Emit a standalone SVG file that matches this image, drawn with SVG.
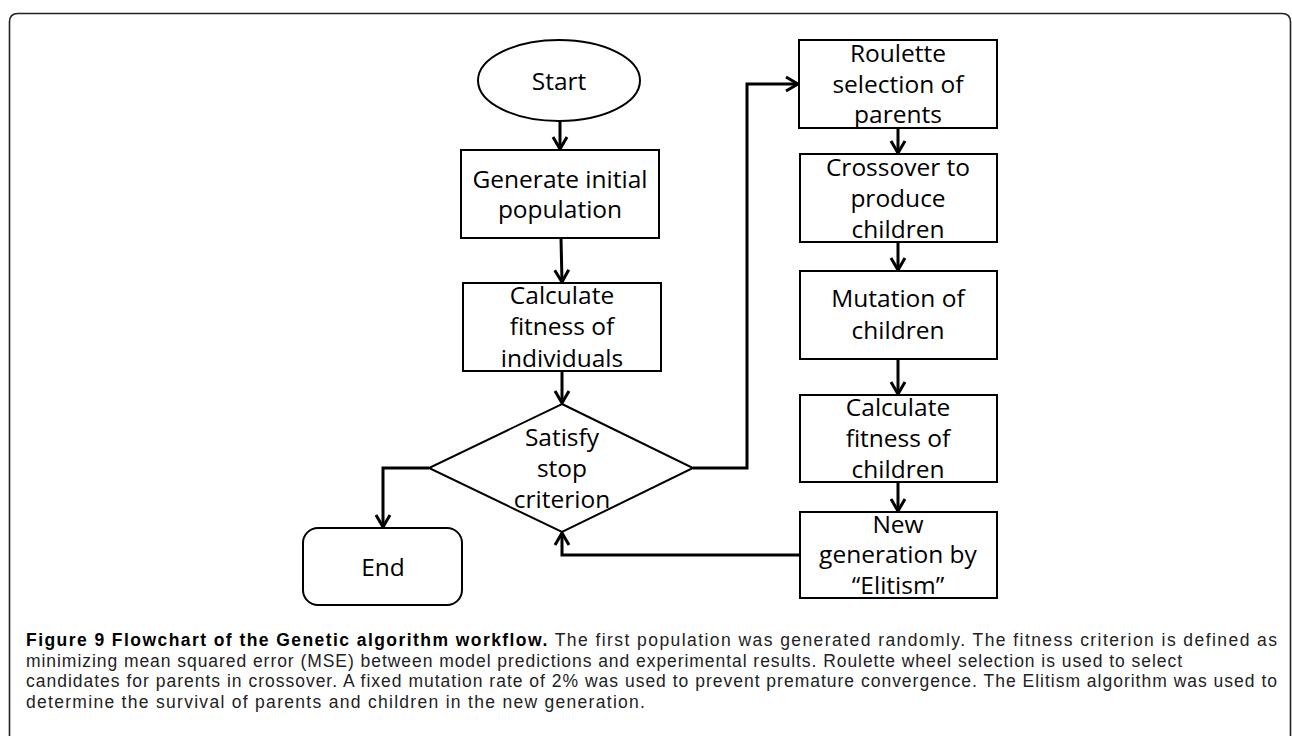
<svg xmlns="http://www.w3.org/2000/svg" width="1292" height="736" viewBox="0 0 1292 736">
<style>
.node{fill:#fff;stroke:#000;stroke-width:2}
.lbl{font-family:"Open Sans","Liberation Sans",sans-serif;font-size:24.5px;fill:#000;text-anchor:middle}
.conn{fill:none;stroke:#000;stroke-width:3}
.cap{font-family:"Liberation Sans",Arial,sans-serif;font-size:17.5px;fill:#222}
.capb{font-weight:bold;fill:#000}
</style>
<defs>
<marker id="arr" markerUnits="userSpaceOnUse" viewBox="0 0 14 16" refX="13" refY="8" markerWidth="14" markerHeight="16" orient="auto" overflow="visible">
<path d="M1,1 L13,8 L1,15" fill="none" stroke="#000" stroke-width="3"/>
</marker>
</defs>
<rect x="0" y="0" width="1292" height="736" fill="#fff"/>
<path d="M9.5,736 L9.5,22 Q9.5,13.5 18,13.5 L1282,13.5 Q1290.5,13.5 1290.5,22 L1290.5,736" fill="none" stroke="#222" stroke-width="1.6"/>

<g id="connectors">
<path class="conn" d="M560,121 L560,149" marker-end="url(#arr)"/>
<path class="conn" d="M561,238 L562,282" marker-end="url(#arr)"/>
<path class="conn" d="M562,371 L562,403" marker-end="url(#arr)"/>
<path class="conn" d="M429,468 L383,468 L383,527" marker-end="url(#arr)"/>
<path class="conn" d="M693,468 L747,468 L747,84 L798,84" marker-end="url(#arr)"/>
<path class="conn" d="M898,128 L898,153" marker-end="url(#arr)"/>
<path class="conn" d="M898,242 L898,270" marker-end="url(#arr)"/>
<path class="conn" d="M898,359 L898,394" marker-end="url(#arr)"/>
<path class="conn" d="M898,482 L898,511" marker-end="url(#arr)"/>
<path class="conn" d="M800,555 L562,555 L562,533" marker-end="url(#arr)"/>
</g>

<g id="start">
<ellipse class="node" cx="559" cy="80.5" rx="81" ry="40.5"/>
<text class="lbl" x="559" y="90">Start</text>
</g>
<g id="generate">
<rect class="node" x="461" y="150" width="198" height="88"/>
<text class="lbl" x="560" y="188">Generate initial</text>
<text class="lbl" x="560" y="218">population</text>
</g>
<g id="calc-individuals">
<rect class="node" x="463" y="283" width="198" height="88"/>
<text class="lbl" x="562" y="304">Calculate</text>
<text class="lbl" x="562" y="335">fitness of</text>
<text class="lbl" x="562" y="367">individuals</text>
</g>
<g id="decision">
<polygon class="node" points="562,404 693,468 562,532 429,468"/>
<text class="lbl" x="562" y="446">Satisfy</text>
<text class="lbl" x="562" y="477">stop</text>
<text class="lbl" x="562" y="508">criterion</text>
</g>
<g id="end">
<rect class="node" x="303" y="528" width="159" height="77" rx="15" ry="15"/>
<text class="lbl" x="383" y="576">End</text>
</g>
<g id="roulette">
<rect class="node" x="799" y="40" width="198" height="88"/>
<text class="lbl" x="898" y="62">Roulette</text>
<text class="lbl" x="898" y="93">selection of</text>
<text class="lbl" x="898" y="123">parents</text>
</g>
<g id="crossover">
<rect class="node" x="800" y="154" width="197" height="88"/>
<text class="lbl" x="898" y="176">Crossover to</text>
<text class="lbl" x="898" y="207">produce</text>
<text class="lbl" x="898" y="238">children</text>
</g>
<g id="mutation">
<rect class="node" x="800" y="271" width="197" height="88"/>
<text class="lbl" x="898" y="307">Mutation of</text>
<text class="lbl" x="898" y="339">children</text>
</g>
<g id="calc-children">
<rect class="node" x="800" y="395" width="197" height="87"/>
<text class="lbl" x="898" y="416">Calculate</text>
<text class="lbl" x="898" y="447">fitness of</text>
<text class="lbl" x="898" y="478">children</text>
</g>
<g id="new-generation">
<rect class="node" x="800" y="512" width="197" height="86"/>
<text class="lbl" x="898" y="533">New</text>
<text class="lbl" x="898" y="563">generation by</text>
<text class="lbl" x="898" y="594">“Elitism”</text>
</g>

<g id="caption">
<text class="cap" x="26" y="646" textLength="1251" lengthAdjust="spacing"><tspan class="capb">Figure 9 Flowchart of the Genetic algorithm workflow.</tspan> The first population was generated randomly. The fitness criterion is defined as</text>
<text class="cap" x="26" y="666.5" textLength="1156" lengthAdjust="spacing">minimizing mean squared error (MSE) between model predictions and experimental results. Roulette wheel selection is used to select</text>
<text class="cap" x="26" y="687" textLength="1251" lengthAdjust="spacing">candidates for parents in crossover. A fixed mutation rate of 2% was used to prevent premature convergence. The Elitism algorithm was used to</text>
<text class="cap" x="26" y="707.5" textLength="619" lengthAdjust="spacing">determine the survival of parents and children in the new generation.</text>
</g>
</svg>
